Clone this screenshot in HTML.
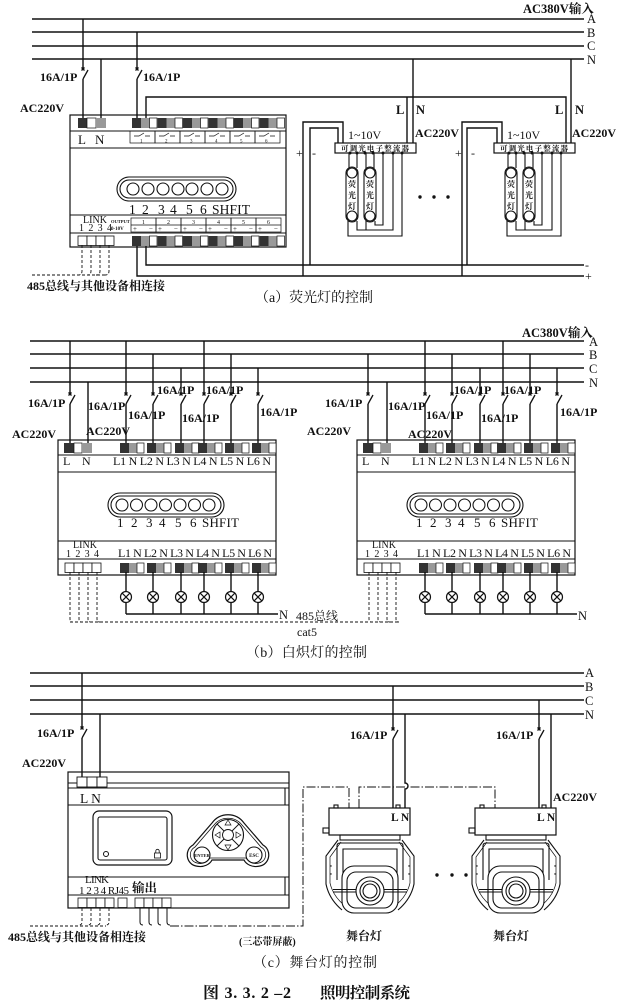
<!DOCTYPE html>
<html><head><meta charset="utf-8">
<style>
html,body{margin:0;padding:0;background:#fff;}
svg{display:block;}
text{font-family:"Liberation Serif","Noto Serif CJK SC",serif;fill:#111;stroke:none;}
.b{font-weight:bold;}
</style></head><body>
<svg width="619" height="1002" viewBox="0 0 619 1002" xmlns="http://www.w3.org/2000/svg">
<defs>
  <path id="sw" d="M-1.5 -6.5l3 3M1.5 -6.5l-3 3M0 5L5 -4" fill="none" stroke="#111" stroke-width="1.3"/>
  <g id="tgA"><rect x="0" y="0" width="9" height="10" fill="#333" stroke="none"/><rect x="9" y="0" width="8.5" height="10" fill="#999" stroke="none"/><rect x="17.5" y="0" width="7.5" height="10" fill="#fff" stroke="#111" stroke-width="0.7"/></g>
  <g id="tgB"><rect x="0" y="0" width="9" height="10" fill="#333" stroke="none"/><rect x="9" y="0" width="8" height="10" fill="#999" stroke="none"/><rect x="17" y="0" width="7" height="10" fill="#fff" stroke="#111" stroke-width="0.7"/></g>
  <g id="cell"><rect x="0" y="0" width="9" height="9.5" fill="#fff" stroke="#111" stroke-width="0.8"/></g>
  <g id="lamp" fill="#fff" stroke="#111" stroke-width="1.2"><circle cx="0" cy="0" r="5.5"/><path d="M-3.9 -3.9L3.9 3.9M3.9 -3.9L-3.9 3.9"/></g>
  <g id="rc" fill="none" stroke="#111" stroke-width="0.7"><rect x="0" y="0" width="25" height="12"/><path d="M4 5h5l5 -3M15 5h5"/></g>
  <g id="oc" fill="none" stroke="#111" stroke-width="0.7"><rect x="0" y="0" width="25" height="14"/><path d="M0 7h25"/></g>
  <g id="tube" fill="none" stroke="#111" stroke-width="1.1">
    <rect x="0" y="0" width="12" height="55" rx="6" fill="#fff"/>
    <circle cx="6" cy="6" r="5"/><circle cx="6" cy="49" r="5"/>
  </g>
</defs>

<g stroke="#111" stroke-width="1.4" fill="none">
<!-- ================= (a) ================= -->
<path d="M32 19H584M32 32H584M32 46H584M32 59H584" stroke-width="1.6"/>
<path d="M83 19V69M83 79V118M101 59V118M137 32V69M137 79V118"/>
<use href="#sw" x="83" y="74"/>
<use href="#sw" x="137" y="74"/>
<path d="M146 118V97H566V143M407 97V143M413 59V143M571 59V143"/>
<path d="M303 276V122H343V143M310 265V128H338V143"/>
<path d="M462 276V122H502V143M467 265V128H497V143"/>
<path d="M137 245V276H584M146 245V265H584"/>
<rect x="70" y="115" width="216" height="132" stroke-width="1.2"/>
<path d="M70 131H286M70 148H286M70 215H286M70 233H286" stroke-width="1.1"/>
<rect x="78" y="118" width="9" height="10" fill="#333" stroke="none"/>
<rect x="87" y="118" width="9" height="10" fill="#fff" stroke-width="0.7"/>
<rect x="96" y="118" width="10" height="10" fill="#999" stroke="none"/>
<use href="#tgA" x="132" y="118"/><use href="#tgA" x="157.5" y="118"/><use href="#tgA" x="183" y="118"/>
<use href="#tgA" x="208.5" y="118"/><use href="#tgA" x="234" y="118"/><use href="#tgA" x="259.5" y="118"/>
<use href="#rc" x="130" y="131"/><use href="#rc" x="155" y="131"/><use href="#rc" x="180" y="131"/>
<use href="#rc" x="205" y="131"/><use href="#rc" x="230" y="131"/><use href="#rc" x="255" y="131"/>
<rect x="117" y="177" width="119" height="24" rx="12" stroke-width="1.1"/>
<rect x="120" y="180" width="113" height="18" rx="9" stroke-width="1.1"/>
<g stroke-width="1.1"><circle cx="133" cy="189" r="6"/><circle cx="148" cy="189" r="6"/><circle cx="163" cy="189" r="6"/><circle cx="178" cy="189" r="6"/><circle cx="192" cy="189" r="6"/><circle cx="207" cy="189" r="6"/><circle cx="222" cy="189" r="6"/></g>
<use href="#oc" x="131" y="218"/><use href="#oc" x="156" y="218"/><use href="#oc" x="181" y="218"/>
<use href="#oc" x="206" y="218"/><use href="#oc" x="231" y="218"/><use href="#oc" x="256" y="218"/>
<use href="#cell" x="78" y="236"/><use href="#cell" x="87" y="236"/><use href="#cell" x="96" y="236"/><use href="#cell" x="105" y="236"/>
<use href="#tgA" x="132" y="236"/><use href="#tgA" x="157.5" y="236"/><use href="#tgA" x="183" y="236"/>
<use href="#tgA" x="208.5" y="236"/><use href="#tgA" x="234" y="236"/><use href="#tgA" x="259.5" y="236"/>
<path d="M82 245V271q0 4 -4 4M91 245V271q0 4 -4 4M100 245V271q0 4 -4 4M109 245V271q0 4 -4 4M32 275H105" stroke-width="0.9" stroke-dasharray="3 2"/>
<g id="bal">
<rect x="335" y="143" width="81" height="10" fill="#fff" stroke-width="1.2"/>
<g fill="#111" stroke="none"><circle cx="350" cy="153" r="1.5"/><circle cx="357" cy="153" r="1.5"/><circle cx="365" cy="153" r="1.5"/><circle cx="373" cy="153" r="1.5"/><circle cx="383" cy="153" r="1.5"/><circle cx="393" cy="153" r="1.5"/><circle cx="402" cy="153" r="1.5"/></g>
<path d="M349 153V168M357 153V168M366 153V168M374 153V168M383 153V225H375V221M393 153V230H357V221M366 230V221M402 153V236H348V221" stroke-width="1.1"/>
<use href="#tube" x="346" y="167"/>
<use href="#tube" x="364" y="167"/>
</g>
<use href="#bal" x="159" y="0"/>
<g fill="#111" stroke="none"><circle cx="420" cy="197" r="1.7"/><circle cx="434" cy="197" r="1.7"/><circle cx="448" cy="197" r="1.7"/></g>

<!-- ================= (b) ================= -->
<path d="M30 341H584M30 354H584M30 368H584M30 382H584" stroke-width="1.6"/>
<path d="M70 341V394M70 404V443M88 382V443M126 341V394M126 404V443M153 354V394M153 404V443M181 368V394M181 404V443M204 341V394M204 404V443M231 354V394M231 404V443M258 368V394M258 404V443"/>
<use href="#sw" x="70" y="399"/><use href="#sw" x="126" y="399"/><use href="#sw" x="153" y="399"/><use href="#sw" x="181" y="399"/><use href="#sw" x="204" y="399"/><use href="#sw" x="231" y="399"/><use href="#sw" x="258" y="399"/>
<path d="M368 354V394M368 404V443M387 382V443M425 341V394M425 404V443M452 354V394M452 404V443M480 368V394M480 404V443M503 341V394M503 404V443M530 354V394M530 404V443M557 368V394M557 404V443"/>
<use href="#sw" x="368" y="399"/><use href="#sw" x="425" y="399"/><use href="#sw" x="452" y="399"/><use href="#sw" x="480" y="399"/><use href="#sw" x="503" y="399"/><use href="#sw" x="530" y="399"/><use href="#sw" x="557" y="399"/>

<g id="boxb">
<rect x="58" y="440" width="218" height="135" stroke-width="1.2"/>
<path d="M58 455H276M58 472H276M58 541H276M58 559H276" stroke-width="1.1"/>
<rect x="64" y="443" width="10" height="10" fill="#333" stroke="none"/>
<rect x="74" y="443" width="8" height="10" fill="#fff" stroke-width="0.7"/>
<rect x="82" y="443" width="10" height="10" fill="#999" stroke="none"/>
<use href="#tgB" x="120" y="443"/><use href="#tgB" x="147" y="443"/><use href="#tgB" x="175" y="443"/><use href="#tgB" x="198" y="443"/><use href="#tgB" x="225" y="443"/><use href="#tgB" x="252" y="443"/>
<rect x="108" y="493" width="116" height="24" rx="12" stroke-width="1.1"/>
<rect x="111" y="496" width="110" height="18" rx="9" stroke-width="1.1"/>
<g stroke-width="1.1"><circle cx="122" cy="505" r="6"/><circle cx="136.5" cy="505" r="6"/><circle cx="151" cy="505" r="6"/><circle cx="165.5" cy="505" r="6"/><circle cx="180" cy="505" r="6"/><circle cx="194.5" cy="505" r="6"/><circle cx="209" cy="505" r="6"/></g>
<use href="#cell" x="65" y="563"/><use href="#cell" x="74" y="563"/><use href="#cell" x="83" y="563"/><use href="#cell" x="92" y="563"/>
<use href="#tgB" x="120" y="563"/><use href="#tgB" x="147" y="563"/><use href="#tgB" x="175" y="563"/><use href="#tgB" x="198" y="563"/><use href="#tgB" x="225" y="563"/><use href="#tgB" x="252" y="563"/>
<path d="M126 572V591M153 572V591M181 572V591M204 572V591M231 572V591M258 572V591M126 602V614M153 602V614M181 602V614M204 602V614M231 602V614M258 602V614M126 614H278"/>
<use href="#lamp" x="126" y="597"/><use href="#lamp" x="153" y="597"/><use href="#lamp" x="181" y="597"/><use href="#lamp" x="204" y="597"/><use href="#lamp" x="231" y="597"/><use href="#lamp" x="258" y="597"/>
<path d="M70 572V619q0 3 3 3M79 572V619q0 3 3 3M88 572V619q0 3 3 3M97 572V619q0 3 3 3" stroke-width="0.9" stroke-dasharray="3 2"/>
</g>
<use href="#boxb" x="299" y="0"/>
<path d="M70 622H398" stroke-width="0.9" stroke-dasharray="3 2"/>

<!-- ================= (c) ================= -->
<path d="M30 673H584M30 686H584M30 700H584M30 714H584" stroke-width="1.6"/>
<path d="M82 673V728M82 738V777M100 714V777"/>
<use href="#sw" x="82" y="733"/>
<path d="M393 686V729M393 739V808M405 714V783a3 3 0 0 1 0 6V808"/>
<use href="#sw" x="393" y="734"/>
<path d="M539 700V729M539 739V808M551 714V808"/>
<use href="#sw" x="539" y="734"/>
<rect x="68" y="772" width="221" height="136" stroke-width="1.2"/>
<path d="M68 783H289M68 788H289M68 805H289M68 877H289M68 895H289M285 788V805M285 877V895" stroke-width="1.1"/>
<rect x="77" y="777" width="10" height="10" fill="#fff" stroke-width="0.9"/>
<rect x="87" y="777" width="10" height="10" fill="#fff" stroke-width="0.9"/>
<rect x="97" y="777" width="10" height="10" fill="#fff" stroke-width="0.9"/>
<rect x="93" y="811" width="79" height="54" rx="6" stroke-width="1.2"/>
<rect x="98" y="817" width="69" height="43" rx="2" stroke-width="1.1"/>
<circle cx="106" cy="854" r="2.5" stroke-width="1"/>
<rect x="154.5" y="853" width="6" height="5" stroke-width="0.8"/>
<path d="M155.8 853v-2a1.7 1.7 0 0 1 3.4 0v2" stroke-width="0.8"/>
<path d="M196 866C186 864 184 850 193 845L212 823C220 812 236 812 244 823L263 845C272 850 270 864 260 866C252 868 246 864 244 860L212 860C210 864 204 868 196 866Z" stroke-width="1.2"/>
<path d="M197 863C189 861 188 851 195 847L214 825C221 816 235 816 242 825L261 847C268 851 267 861 259 863C253 865 248 861 246 858L210 858C208 861 203 865 197 863Z" stroke-width="0.8"/>
<circle cx="228" cy="835" r="15.5" stroke-width="1.1"/>
<circle cx="228" cy="835" r="5.5" stroke-width="0.9"/>
<path d="M224 831L217 824M232 831L239 824M224 839L217 846M232 839L239 846" stroke-width="0.9"/>
<path d="M228 820l-3 5h6zM228 850l-3 -5h6zM215 835l5 -3v6zM241 835l-5 -3v6z" stroke-width="0.7"/>
<circle cx="202" cy="855" r="8" stroke-width="1.1"/>
<circle cx="254" cy="855" r="8" stroke-width="1.1"/>
<use href="#cell" x="78" y="898"/><use href="#cell" x="87" y="898"/><use href="#cell" x="96" y="898"/><use href="#cell" x="105" y="898"/>
<use href="#cell" x="118" y="898"/>
<use href="#cell" x="135" y="898"/><use href="#cell" x="144" y="898"/><use href="#cell" x="153" y="898"/><use href="#cell" x="162" y="898"/>
<path d="M82 908V922q0 3 -3 3M91 908V922q0 3 -3 3M100 908V922q0 3 -3 3M109 908V922q0 3 -3 3M30 926H106" stroke-width="0.9" stroke-dasharray="3 2"/>
<path d="M140 908V922q0 3 3 3M149 908V922q0 3 3 3M158 908V922q0 3 3 3M167 908V922q0 3 3 3" stroke-width="1"/>
<path d="M170 926H303V787H349V808M359 808V787H495V808" stroke-width="1" stroke-dasharray="9 2 1.5 2"/>
<g id="st" stroke-width="1.1">
<rect x="329" y="808" width="81" height="27" fill="#fff" stroke-width="1.2"/>
<rect x="334" y="805" width="4" height="3"/><rect x="396" y="805" width="4" height="3"/>
<rect x="323" y="828" width="6" height="5"/>
<rect x="340" y="835" width="60" height="5"/>
<path d="M338 840L326 856V884Q329 899 342 910M402 840L414 856V884Q411 899 398 910"/>
<path d="M341 842L330 857V883Q333 896 344 905M399 842L410 857V883Q407 896 396 905" stroke-width="0.7"/>
<path d="M337 880V846Q337 843 340 843H400Q403 843 403 846V880M343 876V849H397V876"/>
<rect x="342" y="866" width="56" height="47" rx="12" fill="#fff"/>
<rect x="347" y="872" width="46" height="36" rx="9"/>
<circle cx="370" cy="891" r="14"/><circle cx="370" cy="891" r="10"/><circle cx="370" cy="891" r="7"/>
<path d="M333 889.5H356M384 889.5H407M333 892H356M384 892H407" stroke-width="0.9"/>
<g fill="#111" stroke="none"><circle cx="331" cy="866" r="0.7"/><circle cx="331" cy="874" r="0.7"/><circle cx="409" cy="866" r="0.7"/><circle cx="409" cy="874" r="0.7"/></g>
</g>
<use href="#st" x="146" y="0"/>
<g fill="#111" stroke="none"><circle cx="437" cy="875" r="1.7"/><circle cx="452" cy="875" r="1.7"/><circle cx="466" cy="875" r="1.7"/></g>
</g>

<!-- ================= TEXT ================= -->
<text x="523" y="13" font-size="12.5" class="b">AC380V输入</text>
<text x="587" y="23" font-size="12.5">A</text><text x="587" y="37" font-size="12.5">B</text><text x="587" y="50" font-size="12.5">C</text><text x="587" y="64" font-size="12.5">N</text>
<text x="40" y="81" font-size="12" class="b">16A/1P</text>
<text x="143" y="81" font-size="12" class="b">16A/1P</text>
<text x="20" y="112" font-size="12" class="b">AC220V</text>
<text x="78" y="144" font-size="13">L</text><text x="95" y="144" font-size="13">N</text>
<g font-size="5"><text x="140" y="142.5">1</text><text x="165" y="142.5">2</text><text x="190" y="142.5">3</text><text x="215" y="142.5">4</text><text x="240" y="142.5">5</text><text x="265" y="142.5">6</text></g>
<g font-size="13.5"><text x="129" y="214">1</text><text x="142" y="214">2</text><text x="158" y="214">3</text><text x="170" y="214">4</text><text x="186" y="214">5</text><text x="200" y="214">6</text><text x="212" y="214" textLength="38">SHFIT</text></g>
<text x="83" y="223" font-size="10" textLength="24">LINK</text>
<text x="79" y="231" font-size="10" textLength="33">1 2 3 4</text>
<text x="111" y="223" font-size="4.5" class="b">OUTPUT</text>
<text x="111" y="230" font-size="5" class="b">0-10V</text>
<g font-size="6"><text x="142" y="224">1</text><text x="167" y="224">2</text><text x="192" y="224">3</text><text x="217" y="224">4</text><text x="242" y="224">5</text><text x="267" y="224">6</text></g>
<g font-size="7"><text x="133" y="231">+</text><text x="149" y="231">−</text><text x="158" y="231">+</text><text x="174" y="231">−</text><text x="183" y="231">+</text><text x="199" y="231">−</text><text x="208" y="231">+</text><text x="224" y="231">−</text><text x="233" y="231">+</text><text x="249" y="231">−</text><text x="258" y="231">+</text><text x="274" y="231">−</text></g>
<text x="27" y="290" font-size="12" class="b">485总线与其他设备相连接</text>
<text x="296" y="157" font-size="12">+</text><text x="312" y="157" font-size="12">-</text>
<text x="455" y="157" font-size="12">+</text><text x="471" y="157" font-size="12">-</text>
<text x="585" y="269" font-size="12">-</text><text x="585" y="280" font-size="12">+</text>
<text x="396" y="114" font-size="12.5" class="b">L</text><text x="416" y="114" font-size="12.5" class="b">N</text>
<text x="555" y="114" font-size="12.5" class="b">L</text><text x="575" y="114" font-size="12.5" class="b">N</text>
<text x="415" y="137" font-size="12" class="b">AC220V</text>
<text x="572" y="137" font-size="12" class="b">AC220V</text>
<text x="348" y="139" font-size="12">1~10V</text>
<text x="507" y="139" font-size="12">1~10V</text>
<text x="341" y="151" font-size="7.5" class="b" textLength="68">可调光电子整流器</text>
<text x="500" y="151" font-size="7.5" class="b" textLength="68">可调光电子整流器</text>
<g font-size="8" class="b" text-anchor="middle">
<text x="352" y="187">荧</text><text x="352" y="198">光</text><text x="352" y="209">灯</text>
<text x="370" y="187">荧</text><text x="370" y="198">光</text><text x="370" y="209">灯</text>
<text x="511" y="187">荧</text><text x="511" y="198">光</text><text x="511" y="209">灯</text>
<text x="529" y="187">荧</text><text x="529" y="198">光</text><text x="529" y="209">灯</text>
</g>
<text x="255" y="302" font-size="14" textLength="118">（a）荧光灯的控制</text>

<text x="522" y="337" font-size="12.5" class="b">AC380V输入</text>
<text x="589" y="346" font-size="12.5">A</text><text x="589" y="359" font-size="12.5">B</text><text x="589" y="373" font-size="12.5">C</text><text x="589" y="387" font-size="12.5">N</text>
<g font-size="12" class="b">
<text x="28" y="407">16A/1P</text><text x="88" y="410">16A/1P</text><text x="157" y="394">16A/1P</text><text x="128" y="419">16A/1P</text><text x="206" y="394">16A/1P</text><text x="182" y="422">16A/1P</text><text x="260" y="416">16A/1P</text>
<text x="325" y="407">16A/1P</text><text x="388" y="410">16A/1P</text><text x="454" y="394">16A/1P</text><text x="426" y="419">16A/1P</text><text x="504" y="394">16A/1P</text><text x="481" y="422">16A/1P</text><text x="560" y="416">16A/1P</text>
<text x="12" y="438">AC220V</text><text x="86" y="435">AC220V</text>
<text x="307" y="435">AC220V</text><text x="408" y="438">AC220V</text>
</g>
<g>
<text x="63" y="465" font-size="12">L</text><text x="82" y="465" font-size="12">N</text>
<text x="113" y="465" font-size="12" textLength="158">L1 N L2 N L3 N L4 N L5 N L6 N</text>
<g font-size="13"><text x="117" y="527">1</text><text x="131" y="527">2</text><text x="146" y="527">3</text><text x="159" y="527">4</text><text x="175" y="527">5</text><text x="190" y="527">6</text><text x="202" y="527" textLength="37">SHFIT</text></g>
<text x="73" y="548" font-size="10" textLength="24">LINK</text>
<text x="66" y="557" font-size="10" textLength="33">1 2 3 4</text>
<text x="118" y="557" font-size="12" textLength="154">L1 N L2 N L3 N L4 N L5 N L6 N</text>
</g>
<g transform="translate(299 0)">
<text x="63" y="465" font-size="12">L</text><text x="82" y="465" font-size="12">N</text>
<text x="113" y="465" font-size="12" textLength="158">L1 N L2 N L3 N L4 N L5 N L6 N</text>
<g font-size="13"><text x="117" y="527">1</text><text x="131" y="527">2</text><text x="146" y="527">3</text><text x="159" y="527">4</text><text x="175" y="527">5</text><text x="190" y="527">6</text><text x="202" y="527" textLength="37">SHFIT</text></g>
<text x="73" y="548" font-size="10" textLength="24">LINK</text>
<text x="66" y="557" font-size="10" textLength="33">1 2 3 4</text>
<text x="118" y="557" font-size="12" textLength="154">L1 N L2 N L3 N L4 N L5 N L6 N</text>
</g>
<text x="279" y="619" font-size="12.5">N</text>
<text x="578" y="620" font-size="12.5">N</text>
<text x="296" y="620" font-size="12">485总线</text>
<text x="297" y="636" font-size="12">cat5</text>
<text x="246" y="657" font-size="14" textLength="121">（b）白炽灯的控制</text>

<text x="585" y="677" font-size="12.5">A</text><text x="585" y="691" font-size="12.5">B</text><text x="585" y="705" font-size="12.5">C</text><text x="585" y="719" font-size="12.5">N</text>
<text x="37" y="737" font-size="12" class="b">16A/1P</text>
<text x="22" y="767" font-size="12" class="b">AC220V</text>
<text x="350" y="739" font-size="12" class="b">16A/1P</text>
<text x="496" y="739" font-size="12" class="b">16A/1P</text>
<text x="553" y="801" font-size="12" class="b">AC220V</text>
<text x="80" y="803" font-size="13.5">L N</text>
<text x="391" y="821" font-size="11.5" class="b">L N</text>
<text x="537" y="821" font-size="11.5" class="b">L N</text>
<text x="202" y="857" font-size="4.5" class="b" text-anchor="middle">ENTER</text>
<text x="254" y="857" font-size="5" class="b" text-anchor="middle">ESC</text>
<text x="85" y="883" font-size="11" textLength="24">LINK</text>
<text x="79" y="894" font-size="11" textLength="50">1 2 3 4 RJ45</text>
<text x="132" y="892" font-size="12.5" class="b">输出</text>
<text x="8" y="941" font-size="12" class="b">485总线与其他设备相连接</text>
<text x="239" y="945" font-size="10" class="b">(三芯带屏蔽)</text>
<text x="346" y="940" font-size="12" class="b">舞台灯</text>
<text x="493" y="940" font-size="12" class="b">舞台灯</text>
<text x="253" y="967" font-size="14" textLength="124">（c）舞台灯的控制</text>
<text x="203" y="998" font-size="16" class="b" textLength="88">图 3. 3. 2 –2</text>
<text x="320" y="998" font-size="15.5" class="b" textLength="90">照明控制系统</text>
</svg>
</body></html>
